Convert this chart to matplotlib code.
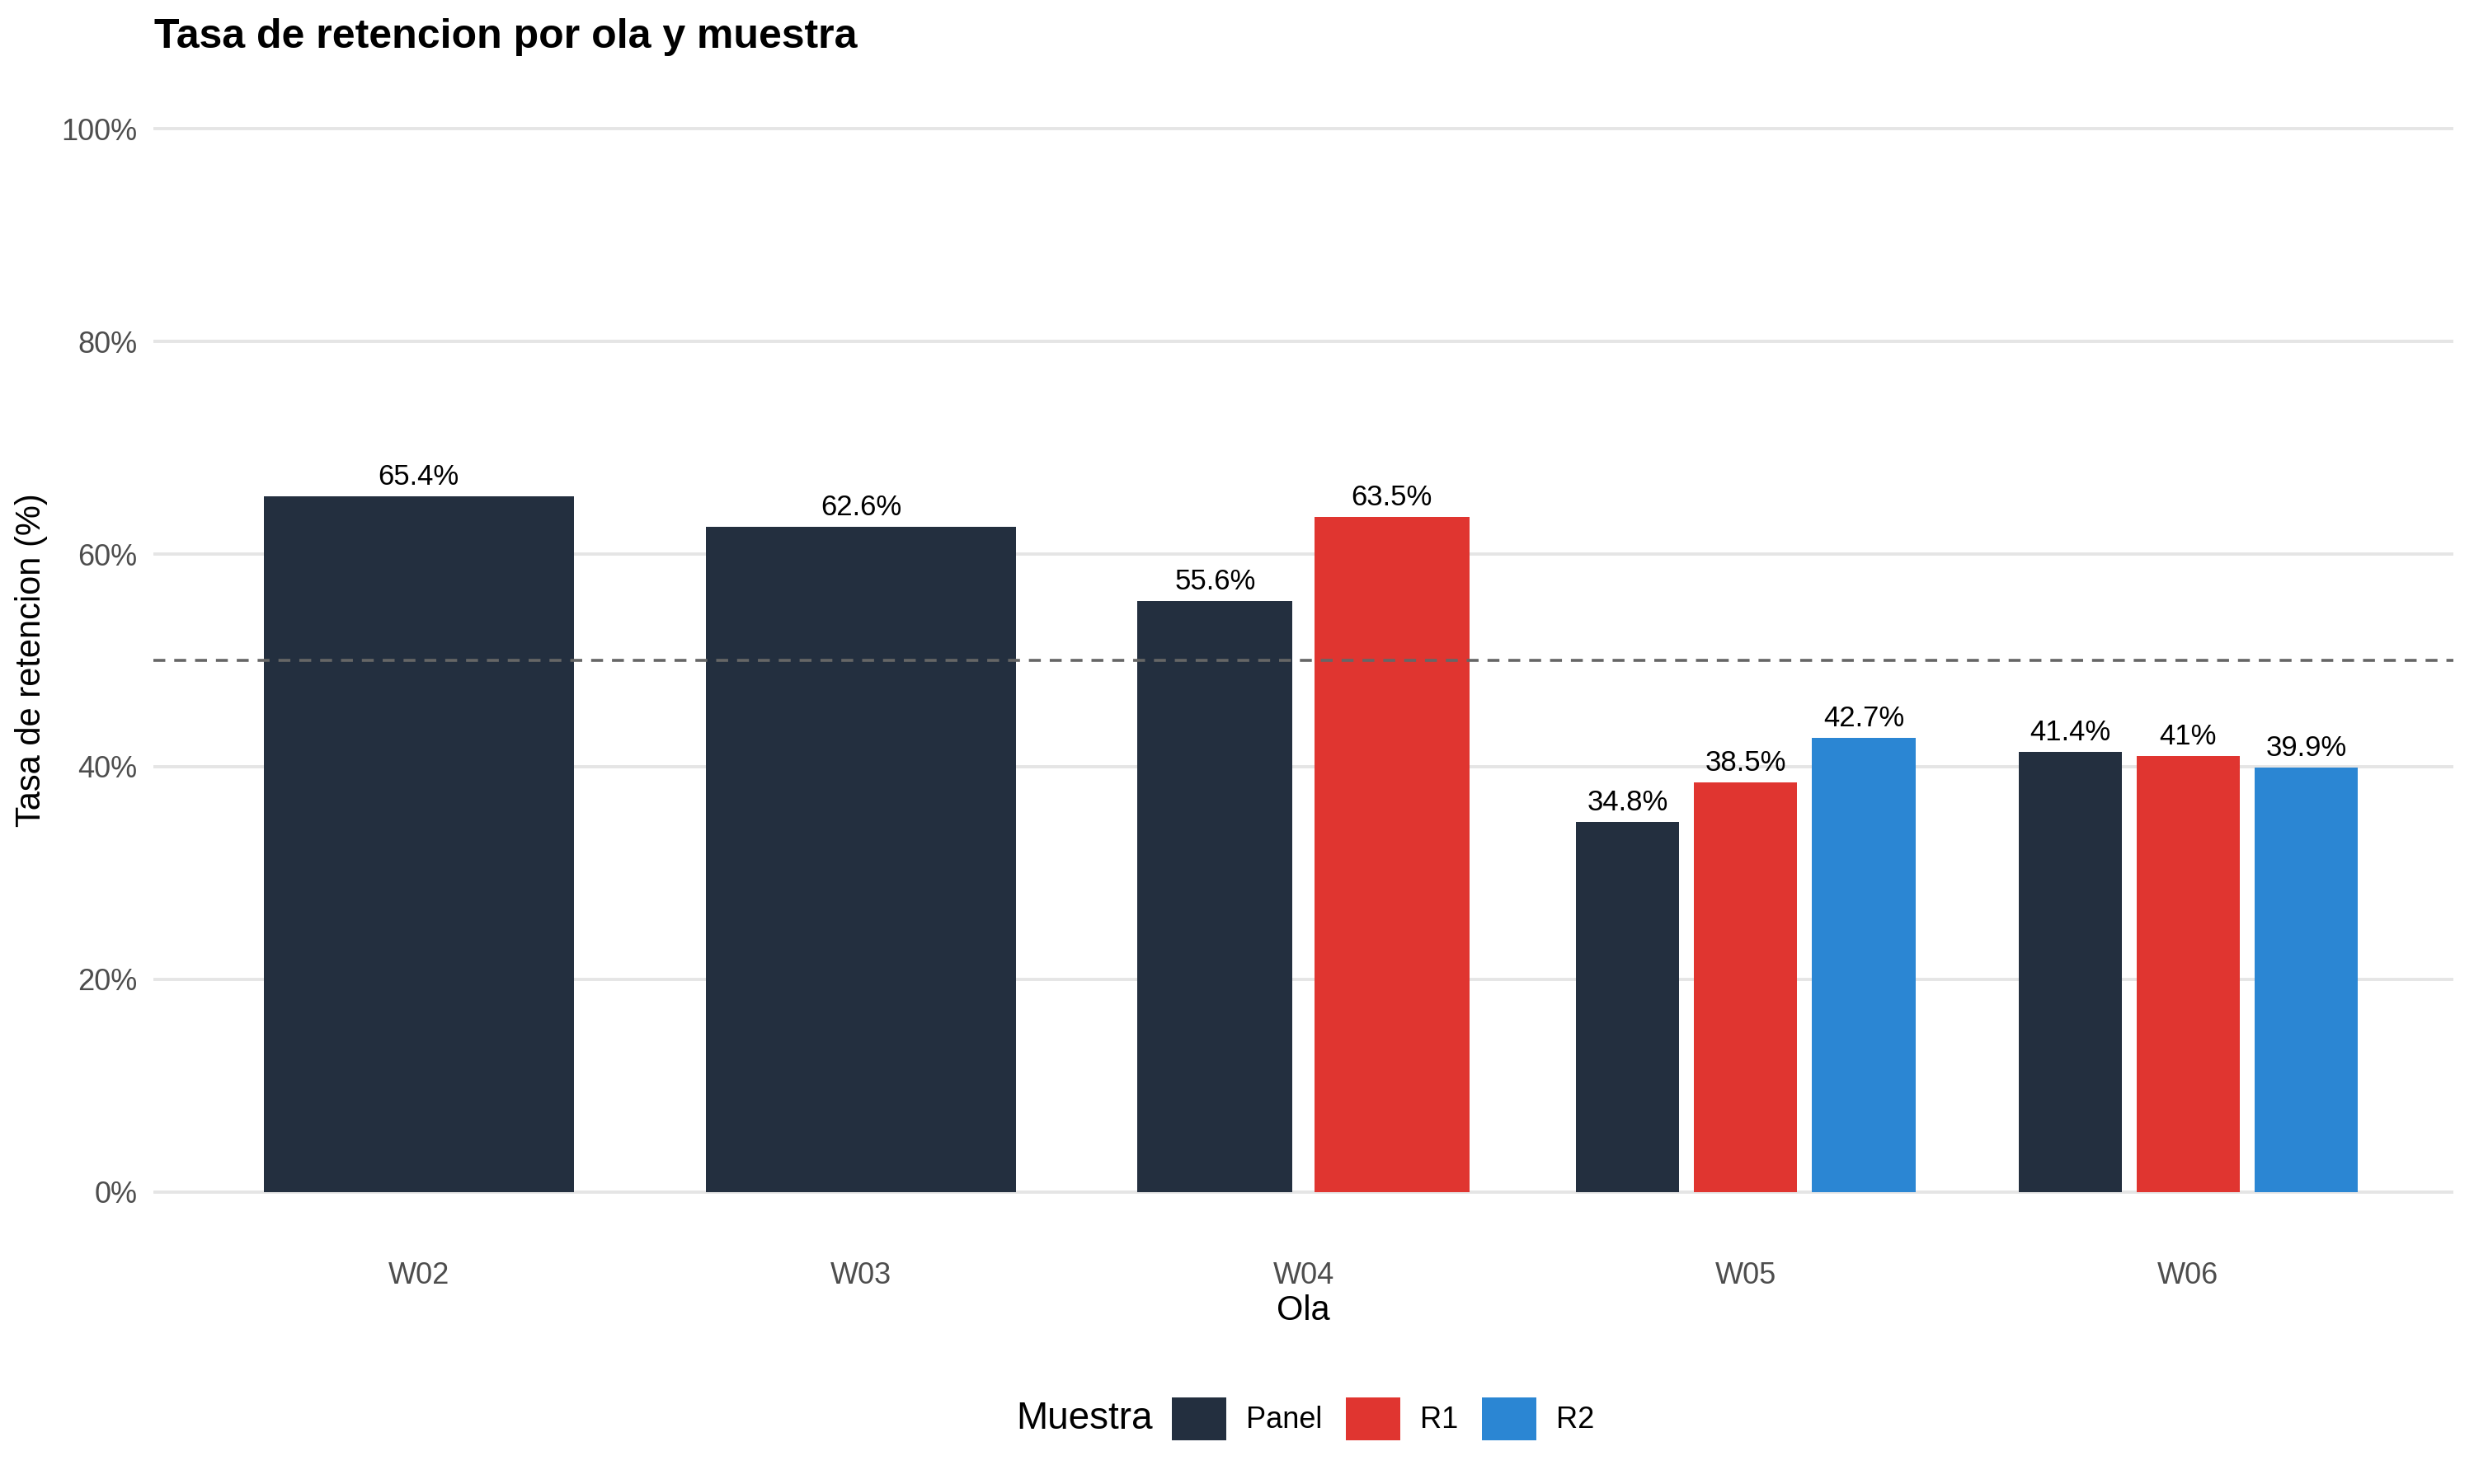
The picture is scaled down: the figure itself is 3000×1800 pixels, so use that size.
#!/usr/bin/env python3
"""Retention rate by wave and sample, grouped bar chart."""

import matplotlib

matplotlib.use("Agg")
import matplotlib.pyplot as plt
from matplotlib.patches import Patch

plt.rcParams["font.family"] = ["Liberation Sans", "DejaVu Sans"]

# Data
WAVES = ["W02", "W03", "W04", "W05", "W06"]
SAMPLES = ["Panel", "R1", "R2"]
PANEL = [65.4, 62.6, 55.6, 34.8, 41.4]
R1 = [None, None, 63.5, 38.5, 41.0]
R2 = [None, None, None, 42.7, 39.9]
THRESHOLD = 50
Y_TICKS = [0, 20, 40, 60, 80, 100]

COLORS = {"Panel": "#232F3F", "R1": "#E03530", "R2": "#2B86D3"}

DODGE = 0.8
GROUP_WIDTH = 0.7


def fmt(v):
    s = f"{v:.1f}".rstrip("0").rstrip(".")
    return s + "%"


def main():
    fig = plt.figure(figsize=(15, 9), dpi=200)
    ax = fig.add_axes([0.062, 0.161, 0.9297, 0.788])

    series = {"Panel": PANEL, "R1": R1, "R2": R2}
    for i, wave in enumerate(WAVES):
        present = [s for s in SAMPLES if series[s][i] is not None]
        n = len(present)
        slot = DODGE / n
        bar_w = GROUP_WIDTH / n
        for j, s in enumerate(present):
            x = i - DODGE / 2 + slot * (j + 0.5) if n > 1 else i
            v = series[s][i]
            ax.bar(x, v, width=bar_w, color=COLORS[s], zorder=3)
            ax.annotate(
                fmt(v),
                xy=(x, v),
                xytext=(0, 2.5),
                textcoords="offset points",
                ha="center",
                va="bottom",
                fontsize=12.5,
                color="black",
                zorder=4,
            )

    ax.axhline(THRESHOLD, color="#666666", linestyle=(0, (4, 3)), linewidth=1.3, zorder=5)

    ax.set_xlim(-0.6, len(WAVES) - 0.4)
    ax.set_ylim(-5, 105)
    ax.set_xticks(range(len(WAVES)))
    ax.set_xticklabels(WAVES)
    ax.set_yticks(Y_TICKS)
    ax.set_yticklabels([f"{t}%" for t in Y_TICKS])
    ax.tick_params(axis="both", length=0, labelsize=13, labelcolor="#4D4D4D")
    ax.tick_params(axis="x", pad=7)
    ax.tick_params(axis="y", pad=7)

    ax.grid(axis="y", color="#E5E5E5", linewidth=1.4, zorder=0)
    ax.set_axisbelow(True)
    for sp in ax.spines.values():
        sp.set_visible(False)

    ax.set_xlabel("Ola", fontsize=15, labelpad=2)
    ax.set_ylabel("Tasa de retencion (%)", fontsize=15, labelpad=6)
    fig.text(0.0623, 0.975, "Tasa de retencion por ola y muestra",
             fontsize=18, fontweight="bold", ha="left", va="center")

    # legend entries, with the title drawn as text on their left
    handles = [Patch(facecolor=COLORS[s], label=s) for s in SAMPLES]
    fig.legend(
        handles=handles,
        loc="center left",
        bbox_to_anchor=(0.4737, 0.044),
        ncol=3,
        frameon=False,
        fontsize=13,
        handlelength=1.83,
        handleheight=1.83,
        handletextpad=0.66,
        columnspacing=0.8,
        borderpad=0,
        borderaxespad=0,
    )
    fig.text(0.4660, 0.044, "Muestra", fontsize=16.5, ha="right", va="center")

    fig.savefig("out.png", dpi=200)
    plt.close(fig)


if __name__ == "__main__":
    main()
